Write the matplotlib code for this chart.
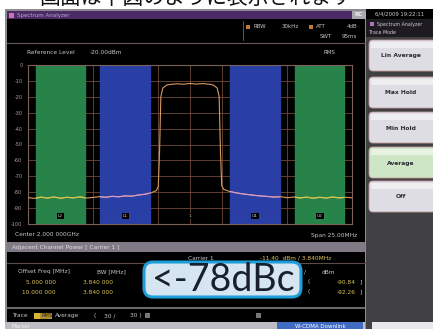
import matplotlib.pyplot as plt
from matplotlib.patches import Rectangle, FancyBboxPatch

W, H = 433, 329

# trace: frequency offset from centre (MHz) and level (dB on the screen scale)
freq_mhz = [-12.5, -12.0, -11.5, -11.0, -10.5, -10.0, -9.5, -9.0, -8.5, -8.0,
            -7.5, -7.0, -6.5, -6.0, -5.5, -5.0, -4.5, -4.0, -3.5, -3.0,
            -2.6, -2.45, -2.35, -2.25, -2.1, -1.8, -1.5, -1.0, -0.5, 0.0,
            0.5, 1.0, 1.5, 1.8, 2.1, 2.25, 2.35, 2.45, 2.6, 3.0,
            3.5, 4.0, 4.5, 5.0, 5.5, 6.0, 6.5, 7.0, 7.5, 8.0,
            8.5, 9.0, 9.5, 10.0, 10.5, 11.0, 11.5, 12.0, 12.5]
level_db = [-83.4, -83.9, -83.1, -83.7, -83.0, -83.8, -83.2, -83.6, -82.9, -83.7,
            -83.3, -82.8, -83.2, -82.6, -82.9, -82.3, -82.5, -81.8, -81.3, -80.4,
            -79.0, -76.5, -55.0, -20.0, -14.5, -12.6, -12.2, -11.8, -12.1, -11.6,
            -12.0, -11.7, -12.1, -12.6, -14.5, -20.0, -55.0, -76.0, -78.2, -79.4,
            -80.3, -81.0, -81.5, -82.0, -82.4, -82.7, -83.1, -82.8, -83.5, -83.0,
            -83.6, -83.1, -83.8, -83.2, -83.7, -83.0, -83.6, -83.2, -83.5]
y_ticks = [0, -10, -20, -30, -40, -50, -60, -70, -80, -90, -100]

# ACP channels: label, centre offset (MHz), band colour
channel_bw = 3.84
channels = [("L2", -10.0, "#27834a"), ("L1", -5.0, "#2a3fa6"), ("1", 0.0, None),
            ("U1", 5.0, "#2a3fa6"), ("U2", 10.0, "#27834a")]

menu_buttons = ["Lin Average", "Max Hold", "Min Hold", "Average", "Off"]
active_button = "Average"

offset_freqs = ["5.000 000", "10.000 000"]
bw_values = ["3.840 000", "3.840 000"]
abs_dbm = ["-90.84", "-92.26"]

SCREEN_TXT = "#c9c4c8"
YELLOW_TXT = "#d9c25a"

fig = plt.figure(figsize=(W / 100, H / 100), dpi=100)
bg = fig.add_axes([0, 0, 1, 1])
bg.set_xlim(0, W)
bg.set_ylim(H, 0)
bg.axis("off")


def box(x0, y0, x1, y1, color, **kw):
    bg.add_patch(Rectangle((x0, y0), x1 - x0, y1 - y0, facecolor=color,
                           edgecolor="none", **kw))


def txt(x, y, s, size=4.2, color=SCREEN_TXT, ha="left", **kw):
    bg.text(x, y, s, fontsize=size, color=color, ha=ha, va="center", **kw)


# page and instrument frame
box(0, 0, W, H, "white")
bg.text(40, 4, "画面は下図のように表示されます", fontsize=15, color="#111111",
        va="baseline", family=["Noto Sans CJK JP", "DejaVu Sans"])
box(5, 9, W, H, "#8d8a90")
box(7, 11, 365, 322, "black")

# title bar
box(7, 11, 352, 19, "#4b2a68")
box(9, 12.5, 14, 17.5, "#d070b0")
txt(17, 15, "Spectrum Analyzer", size=4, color="#b7a9c4")
box(352, 11, 366, 19, "#a9a9b0")
txt(359, 15, "RC", size=4, color="#eeeeee", ha="center", weight="bold")
box(366, 9, W, 19, "black")
txt(400, 14.5, "6/4/2009 19:22:11", size=3.8, color="#cfcfcf", ha="center")

# header: sweep settings
bg.plot([243, 243], [21, 40], color="#666666", lw=0.6)
box(246, 25, 250, 29, "#c07a3a")
txt(253, 27, "RBW", size=4)
txt(282, 27, "30kHz", size=4)
box(309, 25, 313, 29, "#c07a3a")
txt(316, 27, "ATT", size=4)
txt(357, 27, "4dB", size=4, ha="right")
txt(320, 36, "SWT", size=4)
txt(357, 36, "95ms", size=4, ha="right")
bg.plot([7, 365], [43, 43], color="#6b5a5a", lw=0.8)
txt(27, 52, "Reference Level", size=4.2)
txt(90, 52, "-20.00dBm", size=4.2)
txt(323, 53, "RMS", size=4)

txt(15, 235, "Center 2.000 000GHz", size=4.2)
txt(357, 235, "Span 25.00MHz", size=4.2, ha="right")

# ACP result table
box(7, 242, 365, 252, "#7f7a86")
txt(12, 247, "Adjacent Channel Power [ Carrier 1 ]", size=4.2, color="#e2dde6")
bg.plot([7, 365], [263, 263], color="#5a4a48", lw=0.8)
txt(188, 258, "Carrier 1", size=4.2)
txt(260, 258, "-11.40  dBm / 3.840MHz", size=4.2, color=YELLOW_TXT)
txt(18, 272, "Offset Freq [MHz]", size=4.2)
txt(97, 272, "BW [MHz]", size=4.2)
txt(304, 272, "/", size=4.2)
txt(322, 272, "dBm", size=4.2)
for i, (of, bw, ab) in enumerate(zip(offset_freqs, bw_values, abs_dbm)):
    y = 282 + 10 * i
    txt(56, y, of, size=4.2, color=YELLOW_TXT, ha="right")
    txt(113, y, bw, size=4.2, color=YELLOW_TXT, ha="right")
    txt(307, y, "(", size=4.2)
    txt(356, y, ab, size=4.2, color=YELLOW_TXT, ha="right")
    txt(359, y, "]", size=4.2)

# trace status line
box(7, 307, 365, 309, "#6a6a6a")
txt(12, 315.5, "Trace", size=4.2)
box(34, 312.5, 40, 318.5, "#d9b23a")
box(40, 312.5, 52, 318.5, "#b0902a")
txt(41, 315.5, "RMS", size=3.6, color="#202020")
txt(55, 315.5, "Average", size=4.2)
txt(93, 315.5, "(", size=4.2)
txt(104, 315.5, "30 /", size=4.2)
txt(130, 315.5, "30 )", size=4.2)
box(145, 313, 150, 318, "#777777")
box(256, 313, 261, 318, "#777777")

# bottom tabs
box(5, 322, 365, H, "#bdbcc2")
txt(12, 326, "Marker", size=4, color="#f0f0f0")
box(277, 322, 363, H, "#3f6cc2")
txt(320, 326, "W-CDMA Downlink", size=4, color="white", ha="center")

# side menu
box(366, 19, W, H, "#414143")
box(366, 19, W, 37, "#1e1a22")
box(370, 22, 374, 26, "#b070c0")
txt(377, 24.5, "Spectrum Analyzer", size=3.4, color="#cfc8d6")
txt(369, 32, "Trace Mode", size=3.4, color="#cfc8d6")
button_tops = [40, 77, 112, 147, 181]
for label, top in zip(menu_buttons, button_tops):
    face = "#cfe6c6" if label == active_button else "#dddde3"
    bg.add_patch(FancyBboxPatch((369, top), 70, 31,
                                boxstyle="round,pad=0,rounding_size=4",
                                facecolor=face, edgecolor="#c49a9a", lw=0.6))
    bg.add_patch(Rectangle((371, top + 2), 64, 6, facecolor="white",
                           edgecolor="none", alpha=0.5))
    txt(401, top + 16, label, size=4.3, color="#2a2a36", ha="center",
        weight="bold")
box(372, 322, W, H, "#e8e8ea")

# spectrum display
ax = fig.add_axes([28 / W, 1 - 224 / H, 324 / W, 159 / H])
ax.set_facecolor("black")
ax.set_xlim(-12.5, 12.5)
ax.set_ylim(-100, 0)
ax.set_xticks([-12.5 + 2.5 * k for k in range(11)])
ax.set_xticklabels([])
ax.set_yticks(y_ticks)
ax.set_yticklabels([str(v) for v in y_ticks], fontsize=3.6, color="#b59c9c")
ax.tick_params(length=0, pad=4)
ax.set_axisbelow(True)
ax.grid(True, color="#6e4a36", lw=0.6)
for side in ax.spines.values():
    side.set_color("#7a6058")
    side.set_linewidth(0.8)

ax.plot(freq_mhz, level_db, color="#d69a62", lw=0.8, zorder=3)
for name, fc, band in channels:
    lo, hi = fc - channel_bw / 2, fc + channel_bw / 2
    if band is not None:
        ax.axvspan(lo, hi, color=band, zorder=1)
        seg_color = "#d4cf48" if band == "#27834a" else "#d99ad0"
        seg, = ax.plot(freq_mhz, level_db, color=seg_color, lw=0.8, zorder=4)
        seg.set_clip_path(Rectangle((lo, -100), hi - lo, 100,
                                    transform=ax.transData))
    ax.text(fc, -95, name, fontsize=3.2, color="#d0d0d0", ha="center",
            va="center", zorder=5,
            bbox=dict(boxstyle="square,pad=0.25", facecolor="black",
                      edgecolor="none"))

# callout
bg.add_patch(FancyBboxPatch((144, 262), 157, 35,
                            boxstyle="round,pad=0,rounding_size=9",
                            facecolor="#d5e5f1", edgecolor="#1d9ed9", lw=2.2,
                            zorder=10))
bg.text(223, 280, "<-78dBc", fontsize=27, color="#17202c", ha="center",
        va="center", family="Lato", zorder=11)

fig.savefig("out.png", dpi=100)
